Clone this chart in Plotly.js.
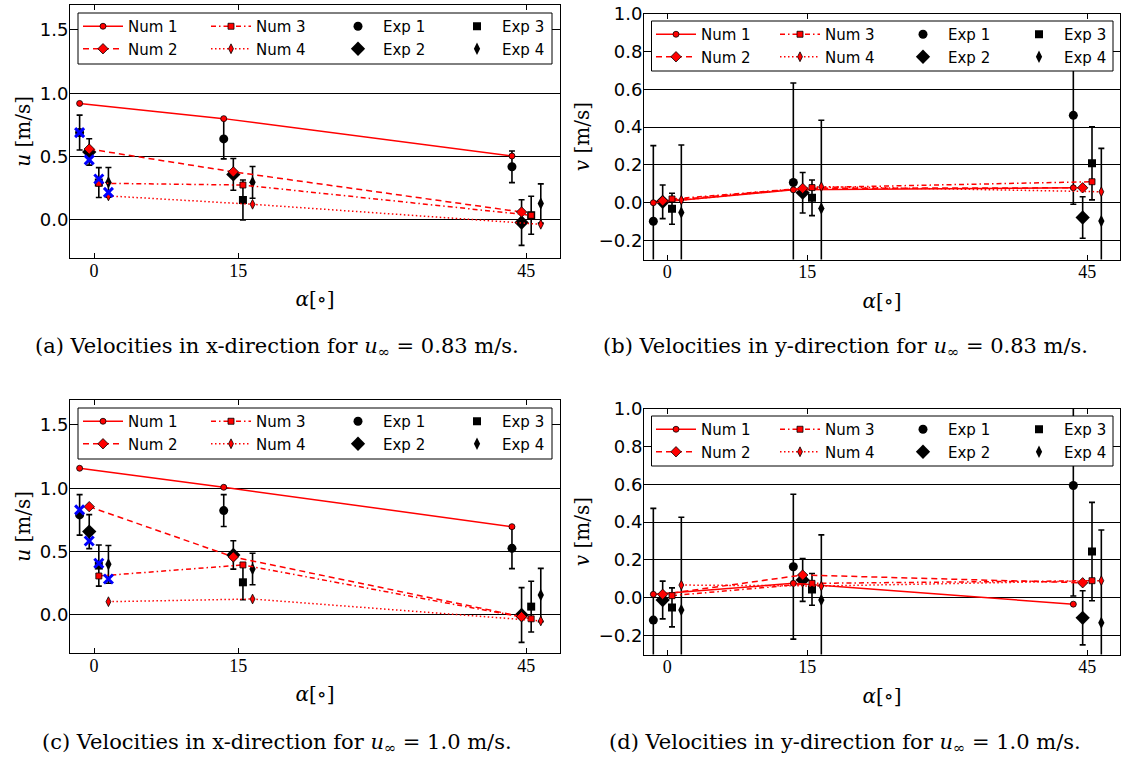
<!DOCTYPE html>
<html>
<head>
<meta charset="utf-8">
<script src="https://cdn.plot.ly/plotly-3.0.1.min.js"></script>
<style>html,body{margin:0;padding:0;background:#fff;}#plot{width:1126px;height:758px;}</style>
</head>
<body>
<div id="plot"></div>
<script>
// ---------- data ----------
const alpha = [0, 15, 45];
const seriesNames = ['Num 1', 'Num 2', 'Num 3', 'Num 4', 'Exp 1', 'Exp 2', 'Exp 3', 'Exp 4'];
const xTickVals = [0, 15, 45];

// (a) u, u_inf = 0.83 m/s
const a_num1 = [0.92, 0.80, 0.505];
const a_num2 = [0.56, 0.38, 0.063];
const a_num3 = [0.29, 0.276, 0.037];
const a_num4 = [0.19, 0.124, -0.034];
const a_exp1 = [0.69, 0.64, 0.42];
const a_exp1_err = [0.138, 0.158, 0.125];
const a_exp2 = [0.537, 0.36, -0.02];
const a_exp2_err = [0.104, 0.125, 0.18];
const a_exp3 = [0.295, 0.158, 0.037];
const a_exp3_err = [0.118, 0.158, 0.15];
const a_exp4 = [0.297, 0.297, 0.13];
const a_exp4_err = [0.117, 0.125, 0.155];
const a_cross = [0.69, 0.474, 0.324, 0.218];

// (b) v, u_inf = 0.83 m/s
const b_num1 = [0.0, 0.068, 0.079];
const b_num2 = [0.01, 0.076, 0.079];
const b_num3 = [0.02, 0.08, 0.111];
const b_num4 = [0.014, 0.085, 0.058];
const b_exp1 = [-0.098, 0.107, 0.462];
const b_exp1_err = [0.40, 0.526, 0.47];
const b_exp2 = [0.005, 0.053, -0.078];
const b_exp2_err = [0.089, 0.107, 0.11];
const b_exp3 = [-0.032, 0.026, 0.208];
const b_exp3_err = [0.082, 0.094, 0.193];
const b_exp4 = [-0.052, -0.03, -0.097];
const b_exp4_err = [0.357, 0.466, 0.384];

// (c) u, u_inf = 1.0 m/s
const c_num1 = [1.158, 1.008, 0.697];
const c_num2 = [0.855, 0.458, -0.013];
const c_num3 = [0.308, 0.395, -0.03];
const c_num4 = [0.105, 0.126, -0.047];
const c_exp1 = [0.79, 0.824, 0.526];
const c_exp1_err = [0.16, 0.126, 0.16];
const c_exp2 = [0.658, 0.474, 0.0];
const c_exp2_err = [0.134, 0.112, 0.216];
const c_exp3 = [0.39, 0.258, 0.066];
const c_exp3_err = [0.162, 0.138, 0.2];
const c_exp4 = [0.40, 0.363, 0.158];
const c_exp4_err = [0.149, 0.124, 0.21];
const c_cross = [0.83, 0.584, 0.408, 0.284];

// (d) v, u_inf = 1.0 m/s
const d_num1 = [0.018, 0.076, -0.034];
const d_num2 = [0.018, 0.12, 0.079];
const d_num3 = [0.011, 0.076, 0.09];
const d_num4 = [0.067, 0.062, 0.09];
const d_exp1 = [-0.118, 0.164, 0.593];
const d_exp1_err = [0.59, 0.383, 0.584];
const d_exp2 = [-0.012, 0.094, -0.106];
const d_exp2_err = [0.1, 0.113, 0.143];
const d_exp3 = [-0.051, 0.044, 0.244];
const d_exp3_err = [0.103, 0.084, 0.26];
const d_exp4 = [-0.065, -0.012, -0.132];
const d_exp4_err = [0.49, 0.344, 0.49];

const captions = [
  '(a) Velocities in x-direction for <i>u</i><sub>∞</sub> = 0.83 m/s.',
  '(b) Velocities in y-direction for <i>u</i><sub>∞</sub> = 0.83 m/s.',
  '(c) Velocities in x-direction for <i>u</i><sub>∞</sub> = 1.0 m/s.',
  '(d) Velocities in y-direction for <i>u</i><sub>∞</sub> = 1.0 m/s.'
];
const yTitles = ['<i>u</i> [m/s]', '<i>v</i> [m/s]', '<i>u</i> [m/s]', '<i>v</i> [m/s]'];
const xTitle = '<i>α</i>[∘]';

// ---------- styling ----------
const W = 1126, H = 758;
const offsets = [-1.5, -0.5, 0.5, 1.5];
const numStyle = [
  {symbol: 'circle', size: 6, dash: 'solid'},
  {symbol: 'diamond', size: 8, dash: '6px,4px'},
  {symbol: 'square', size: 6, dash: '5px,3px,1.5px,3px'},
  {symbol: 'diamond-tall', size: 7, dash: '1.5px,2.5px'}
];
const expStyle = [
  {symbol: 'circle', size: 9},
  {symbol: 'diamond', size: 11},
  {symbol: 'square', size: 8},
  {symbol: 'diamond-tall', size: 9}
];
// pixel boxes of the four plots [left, top, right, bottom]
const boxes = [
  [70, 4.6, 560, 258],
  [644, 13.5, 1120, 259.5],
  [70, 399.6, 560, 653],
  [644, 408.5, 1120, 654.5]
];
// legend frames [left, top, right, bottom] and column text starts, row-1 top
const legendFrames = [
  [78, 13, 552, 64], [651.5, 21, 1113, 71], [78, 408, 552, 459], [651.5, 416, 1113, 466]
];
const legendCols = [
  [129, 257, 384, 503], [702, 826, 949, 1065], [129, 257, 384, 503], [702, 826, 949, 1065]
];
const legendTops = [10, 18, 405, 413];
const captionPos = [[277, 347], [845, 347], [277, 743], [845, 743]];
const yRanges = [[-0.3, 1.7], [-0.3, 1.0], [-0.3, 1.7], [-0.3, 1.0]];
const yDticks = [0.5, 0.2, 0.5, 0.2];

const panels = [
  {num: [a_num1, a_num2, a_num3, a_num4], exp: [a_exp1, a_exp2, a_exp3, a_exp4],
   err: [a_exp1_err, a_exp2_err, a_exp3_err, a_exp4_err], cross: a_cross},
  {num: [b_num1, b_num2, b_num3, b_num4], exp: [b_exp1, b_exp2, b_exp3, b_exp4],
   err: [b_exp1_err, b_exp2_err, b_exp3_err, b_exp4_err], cross: null},
  {num: [c_num1, c_num2, c_num3, c_num4], exp: [c_exp1, c_exp2, c_exp3, c_exp4],
   err: [c_exp1_err, c_exp2_err, c_exp3_err, c_exp4_err], cross: c_cross},
  {num: [d_num1, d_num2, d_num3, d_num4], exp: [d_exp1, d_exp2, d_exp3, d_exp4],
   err: [d_exp1_err, d_exp2_err, d_exp3_err, d_exp4_err], cross: null}
];

const traces = [];
const layout = {
  width: W, height: H,
  margin: {l: 0, r: 0, t: 0, b: 0, autoexpand: false},
  paper_bgcolor: '#fff', plot_bgcolor: '#fff',
  showlegend: true,
  annotations: [], shapes: [],
  font: {family: 'DejaVu Sans', color: '#000'}
};
const serif = 'DejaVu Serif, Liberation Serif, serif';
const tickSerif = 'Liberation Serif, DejaVu Serif, serif';
const legId = n => (n === 1 ? 'legend' : 'legend' + n);

panels.forEach((p, k) => {
  const sfx = k === 0 ? '' : String(k + 1);
  const xa = 'x' + sfx, ya = 'y' + sfx;
  const colLeg = c => legId(k * 4 + c + 1);
  // experiments (drawn first, below)
  p.exp.forEach((vals, i) => {
    traces.push({
      type: 'scatter', mode: 'markers', xaxis: xa, yaxis: ya, legend: colLeg(i < 2 ? 2 : 3),
      name: seriesNames[4 + i],
      x: alpha.map(a => a + offsets[i]), y: vals,
      marker: {symbol: expStyle[i].symbol, size: expStyle[i].size, color: '#000', line: {width: 0}},
      error_y: {type: 'data', array: p.err[i], visible: true, color: '#000', thickness: 1.6, width: 3}
    });
  });
  // numerical
  p.num.forEach((vals, i) => {
    traces.push({
      type: 'scatter', mode: 'lines+markers', xaxis: xa, yaxis: ya, legend: colLeg(i < 2 ? 0 : 1),
      name: seriesNames[i],
      x: alpha.map(a => a + offsets[i]), y: vals,
      line: {color: '#ff0000', width: 1.5, dash: numStyle[i].dash},
      marker: {symbol: numStyle[i].symbol, size: numStyle[i].size, color: '#ff0000', line: {color: '#000', width: 0.8}}
    });
  });
  if (p.cross) {
    traces.push({
      type: 'scatter', mode: 'markers', xaxis: xa, yaxis: ya, showlegend: false,
      name: 'PIV', x: offsets.map(o => alpha[0] + o), y: p.cross,
      marker: {symbol: 'x-thin', size: 9, color: '#0000ff', line: {color: '#0000ff', width: 3}}
    });
  }
  const b = boxes[k];
  layout['xaxis' + sfx] = {
    domain: [b[0] / W, b[2] / W], anchor: ya, range: [-2.5, 48.5],
    tickmode: 'array', tickvals: xTickVals, ticktext: xTickVals.map(String),
    ticks: 'inside', ticklen: 5, tickwidth: 1, tickcolor: '#000', ticklabelstandoff: -4,
    showline: true, linecolor: '#000', linewidth: 1, mirror: 'ticks',
    showgrid: false, zeroline: false,
    tickfont: {family: tickSerif, size: 18, color: '#000'},
    title: {text: xTitle, font: {family: serif, size: 20, color: '#000'}, standoff: 12}
  };
  layout['yaxis' + sfx] = {
    domain: [1 - b[3] / H, 1 - b[1] / H], anchor: xa, range: yRanges[k],
    tick0: 0, dtick: yDticks[k], tickformat: '.1f',
    ticks: 'inside', ticklen: 5, tickwidth: 1, tickcolor: '#000', ticklabelstandoff: -3,
    showline: true, linecolor: '#000', linewidth: 1, mirror: 'ticks',
    showgrid: true, gridcolor: '#000', gridwidth: 1, zeroline: false,
    tickfont: {family: 'DejaVu Sans', size: 18, color: '#000'},
    title: {text: yTitles[k], font: {family: serif, size: 20, color: '#000'}, standoff: 3}
  };
  // legend frame (white box covering the plot, like the reference legend)
  const f = legendFrames[k];
  layout.shapes.push({
    type: 'rect', xref: 'paper', yref: 'paper', layer: 'above',
    x0: f[0] / W, x1: f[2] / W, y0: 1 - f[3] / H, y1: 1 - f[1] / H,
    fillcolor: '#fff', line: {color: '#000', width: 1}
  });
  legendCols[k].forEach((tx, c) => {
    layout[colLeg(c)] = {
      x: (tx - 51) / W, y: 1 - legendTops[k] / H, xanchor: 'left', yanchor: 'top',
      orientation: 'v', traceorder: 'normal', itemwidth: 40,
      bgcolor: 'rgba(0,0,0,0)', borderwidth: 0,
      font: {family: 'DejaVu Sans', size: 15, color: '#000'}
    };
  });
  const cp = captionPos[k];
  layout.annotations.push({
    xref: 'paper', yref: 'paper', x: cp[0] / W, y: 1 - cp[1] / H,
    xanchor: 'center', yanchor: 'middle', showarrow: false,
    text: captions[k], font: {family: serif, size: 21, color: '#000'}
  });
});

Plotly.newPlot('plot', traces, layout, {staticPlot: true});
</script>
</body>
</html>
